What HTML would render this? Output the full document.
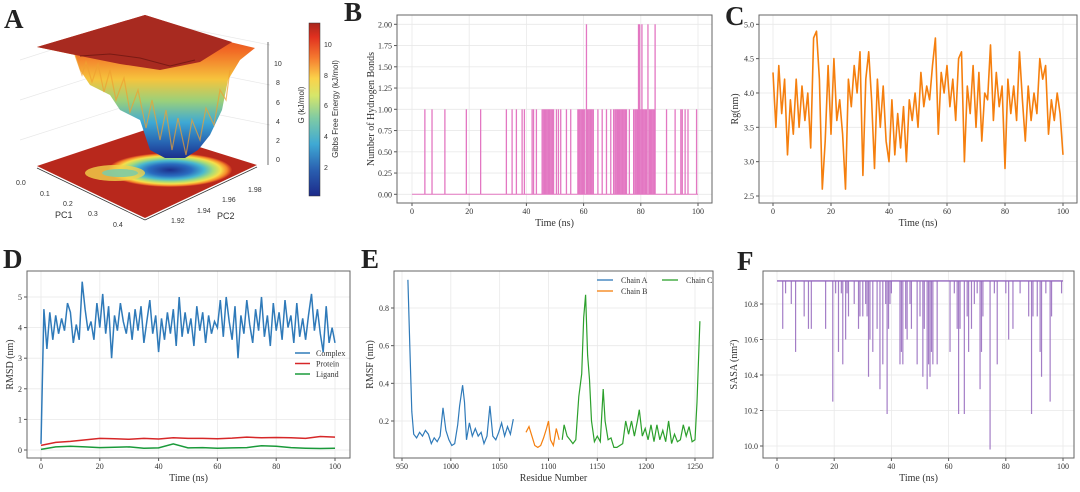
<!DOCTYPE html>
<html><head><meta charset="utf-8"><title>MD analysis panels</title>
<style>
html,body{margin:0;padding:0;background:#fff;}
svg{display:block;font-family:"Liberation Serif",serif;}
.lt{font-family:"Liberation Sans",sans-serif;}
</style></head>
<body>
<svg id="fig" width="1080" height="492" viewBox="0 0 1080 492" xmlns="http://www.w3.org/2000/svg">
<defs>
<linearGradient id="jet" x1="0" y1="1" x2="0" y2="0">
<stop offset="0" stop-color="#1c2a8a"/><stop offset="0.15" stop-color="#2a5fb0"/><stop offset="0.3" stop-color="#3fa9d4"/><stop offset="0.45" stop-color="#7fcba4"/><stop offset="0.58" stop-color="#d6e66a"/><stop offset="0.68" stop-color="#fbd24a"/><stop offset="0.8" stop-color="#f5792f"/><stop offset="0.92" stop-color="#e0301f"/><stop offset="1" stop-color="#a8261c"/>
</linearGradient>
<linearGradient id="funnel" x1="0" y1="0" x2="0" y2="1">
<stop offset="0" stop-color="#c72a1c"/><stop offset="0.25" stop-color="#f26a25"/><stop offset="0.45" stop-color="#f6c43d"/><stop offset="0.6" stop-color="#9bd07a"/><stop offset="0.75" stop-color="#3fa9d4"/><stop offset="0.9" stop-color="#2660b0"/><stop offset="1" stop-color="#1c2f8c"/>
</linearGradient>
<radialGradient id="well" cx="0.5" cy="0.5" r="0.5">
<stop offset="0" stop-color="#1c2f8c"/><stop offset="0.35" stop-color="#2a6cc0"/><stop offset="0.55" stop-color="#48b8d0"/><stop offset="0.7" stop-color="#a8dc78"/><stop offset="0.82" stop-color="#f6e04a"/><stop offset="0.92" stop-color="#f58a2a"/><stop offset="1" stop-color="#c32a1e"/>
</radialGradient>
</defs>

<!-- Panel A -->
<g>
<text x="4" y="28" font-size="27" font-weight="bold" fill="#222">A</text>
<g stroke="#e8e8e8" stroke-width="0.7">
<line x1="20" y1="60" x2="145" y2="20"/><line x1="20" y1="100" x2="145" y2="60"/><line x1="20" y1="140" x2="145" y2="100"/>
<line x1="145" y1="20" x2="270" y2="45"/><line x1="145" y1="60" x2="270" y2="85"/><line x1="145" y1="100" x2="270" y2="125"/>
</g>
<polygon points="37,166 145,130 257,165 145,218" fill="#b8281c"/>
<ellipse cx="170" cy="170" rx="62" ry="17" fill="url(#well)"/>
<ellipse cx="115" cy="173" rx="30" ry="8" fill="#f2d24a" opacity="0.8"/>
<ellipse cx="120" cy="173" rx="18" ry="4" fill="#7fcba4" opacity="0.9"/>
<polygon points="37,47 145,15 230,42 255,48 240,60 228,80 222,110 210,135 198,150 185,158 165,158 150,150 140,120 120,110 110,95 90,85 80,70 75,55" fill="url(#funnel)"/>
<polyline points="75,55 82,75 86,62 92,82 98,64 104,92 110,70 116,100 124,78 130,112 138,90 146,128 152,100 160,140 166,110 172,150 178,118 186,155 192,120 200,140 206,108 214,125 220,90 226,100 230,70" fill="none" stroke="#f0a030" stroke-width="1.2" opacity="0.7"/>
<polygon points="37,47 145,15 232,42 200,62 160,70 120,64 90,58" fill="#a82a20"/>
<polyline points="80,56 110,54 140,58 170,66 195,60" fill="none" stroke="#7a1a14" stroke-width="1"/>
<line x1="268" y1="42" x2="268" y2="165" stroke="#333" stroke-width="0.7"/>
<g font-size="7" fill="#333" class="lt">
<text x="274" y="66">10</text><text x="276" y="85">8</text><text x="276" y="105">6</text><text x="276" y="124">4</text><text x="276" y="143">2</text><text x="276" y="162">0</text>
</g>
<text transform="translate(304,105) rotate(-90)" font-size="8" class="lt" fill="#333" text-anchor="middle">G (kJ/mol)</text>
<line x1="37" y1="168" x2="145" y2="220" stroke="#333" stroke-width="0.7"/>
<line x1="145" y1="220" x2="257" y2="167" stroke="#333" stroke-width="0.7"/>
<g font-size="7" fill="#333" class="lt">
<text x="16" y="185">0.0</text><text x="40" y="196">0.1</text><text x="63" y="206">0.2</text><text x="88" y="216">0.3</text><text x="113" y="227">0.4</text>
</g>
<text x="55" y="218" font-size="9" class="lt" fill="#333">PC1</text>
<g font-size="7" fill="#333" class="lt">
<text x="171" y="223">1.92</text><text x="197" y="213">1.94</text><text x="222" y="202">1.96</text><text x="248" y="192">1.98</text>
</g>
<text x="217" y="219" font-size="9" class="lt" fill="#333">PC2</text>
<rect x="309" y="23" width="11" height="173" fill="url(#jet)" stroke="#333" stroke-width="0.5"/>
<g font-size="7" fill="#333" class="lt">
<text x="324" y="47">10</text><text x="324" y="78">8</text><text x="324" y="108">6</text><text x="324" y="139">4</text><text x="324" y="170">2</text>
</g>
<text transform="translate(338,109) rotate(-90)" font-size="8" class="lt" fill="#333" text-anchor="middle">Gibbs Free Energy (kJ/mol)</text>
</g>
<g id="charts"></g>
</svg>

<script>
// ---- Data ----
// B: hydrogen bonds events (time ns, count)
const hbTimes = [4.5,7,11.5,19,24,33,35,36.5,38.5,39.3,
42,42.5,43.5,45.5,45.9,46.3,46.7,47.1,47.5,47.9,
48.3,48.7,49.1,49.5,50.5,51.2,52,54,55.5,58,
58.4,58.8,59.2,59.6,60,60.4,61,61.4,61.8,62.2,
62.6,63,63.4,65,66.5,68,69.5,70.5,71,71.4,
71.8,72.2,72.6,73,73.4,73.8,74.2,74.6,75,76,
77.5,78,78.4,78.8,79.2,79.6,80,80.4,80.8,81.2,
81.6,82,82.5,83,83.4,83.8,84.2,84.6,85,89,
92,94,94.5,95.5,96.5,99.5];
const hbCounts = [1,1,1,1,1,1,1,1,1,1,
1,1,1,1,1,1,1,1,1,1,
1,1,1,1,1,1,1,1,1,1,
1,1,1,1,1,1,2,1,1,1,
1,1,1,1,1,1,1,1,1,1,
1,1,1,1,1,1,1,1,1,1,
1,1,1,1,2,2,1,2,1,1,
1,1,2,1,1,1,1,1,2,1,
1,1,1,1,1,1];
const hbYTicks = ["0.00","0.25","0.50","0.75","1.00","1.25","1.50","1.75","2.00"];
// C: Rg per ns (0..100)
const rgValues = [4.3,3.5,4.4,3.7,4.2,3.1,3.9,3.4,4.2,3.5,4.1,3.6,4.0,3.2,4.8,4.9,4.2,2.6,3.3,4.4,3.4,4.5,3.6,3.9,3.4,2.6,4.2,3.8,4.4,4.0,4.6,2.8,4.2,4.6,3.9,2.9,4.2,3.5,4.1,3.3,3.0,3.9,3.1,3.7,3.2,3.8,3.0,3.9,3.6,4.0,3.5,4.3,3.8,4.1,3.9,4.4,4.8,3.4,4.3,4.0,4.4,3.8,4.2,3.6,4.5,4.6,3.0,4.1,3.7,4.4,3.5,4.3,3.3,4.0,3.9,4.7,3.6,4.3,3.8,4.1,2.9,4.2,3.7,4.1,3.6,4.6,3.9,3.3,4.1,3.6,4.0,3.7,4.5,4.2,4.4,3.4,3.9,3.6,4.0,3.7,3.1];
const rgYTicks = ["2.5","3.0","3.5","4.0","4.5","5.0"];
const timeTicks = ["0","20","40","60","80","100"];
// D: RMSD
const complexRmsd = [0.2,4.6,3.3,4.5,3.6,4.4,3.8,4.3,3.9,4.8,4.5,3.5,4.1,3.6,5.5,4.6,3.9,4.2,3.6,4.8,4.0,5.1,3.8,4.7,3.0,4.4,3.9,4.8,4.2,3.8,4.5,3.6,4.6,3.9,4.7,3.5,4.2,4.9,3.8,4.4,3.2,4.3,3.6,4.5,3.8,4.6,3.4,5.0,3.7,4.5,3.8,4.3,3.4,4.7,3.9,4.5,3.5,4.4,3.8,4.2,4.0,4.9,3.7,5.0,4.2,3.6,4.7,3.0,4.4,3.8,4.9,4.1,3.5,4.6,3.9,5.0,3.7,4.4,3.4,4.8,3.9,4.5,3.6,4.9,4.0,4.4,3.5,4.8,3.7,4.3,3.6,4.4,5.1,3.9,4.6,3.8,3.2,4.7,3.5,4.0,3.5];
const proteinRmsd = [0.15,0.25,0.28,0.33,0.38,0.37,0.35,0.38,0.36,0.40,0.38,0.38,0.37,0.39,0.42,0.40,0.41,0.40,0.38,0.44,0.42];
const ligandRmsd = [0.02,0.10,0.12,0.10,0.08,0.09,0.10,0.06,0.07,0.20,0.07,0.08,0.06,0.07,0.08,0.14,0.12,0.08,0.06,0.05,0.06];
const rmsdYTicks = ["0","1","2","3","4","5"];
// E: RMSF
const resA = [956,958,960,962,965,968,971,974,977,980,983,986,989,992,995,998,1001,1004,1007,1009,1012,1014,1016,1019,1022,1025,1028,1031,1034,1037,1040,1043,1046,1049,1052,1055,1058,1061,1064];
const rmsfA = [0.95,0.6,0.25,0.13,0.11,0.14,0.12,0.15,0.13,0.08,0.11,0.09,0.12,0.27,0.15,0.1,0.07,0.08,0.18,0.28,0.39,0.3,0.1,0.19,0.12,0.16,0.12,0.14,0.08,0.12,0.28,0.12,0.10,0.14,0.19,0.12,0.17,0.13,0.21];
const resB = [1077,1080,1083,1086,1089,1092,1095,1098,1100,1102,1105,1108,1111];
const rmsfB = [0.14,0.17,0.12,0.07,0.06,0.07,0.11,0.16,0.2,0.1,0.07,0.16,0.1];
const resC = [1114,1116,1119,1122,1125,1128,1131,1134,1136,1138,1140,1142,1144,1147,1150,1153,1156,1158,1161,1164,1167,1170,1173,1176,1179,1182,1185,1188,1191,1193,1196,1199,1202,1205,1208,1211,1214,1217,1220,1223,1226,1229,1232,1235,1238,1241,1244,1247,1250,1252,1255];
const rmsfC = [0.1,0.18,0.12,0.1,0.08,0.1,0.33,0.45,0.75,0.87,0.55,0.42,0.2,0.09,0.12,0.09,0.37,0.2,0.1,0.11,0.06,0.06,0.07,0.08,0.2,0.13,0.2,0.12,0.2,0.26,0.12,0.16,0.1,0.18,0.09,0.18,0.1,0.15,0.09,0.2,0.08,0.13,0.09,0.1,0.18,0.12,0.17,0.09,0.1,0.3,0.73];
const rmsfXTicks = ["950","1000","1050","1100","1150","1200","1250"];
const rmsfYTicks = ["0.2","0.4","0.6","0.8"];
// F: SASA dips
const sasaBase = 10.93;
const sasaTimes = [2,3,5,6.5,9.5,11,12,17,19.5,20.5,21.5,22.5,23,24,24.5,25,27,28.5,29,30,31,31.5,32,32.5,33.5,35,36,37,38,38.5,39,39.5,40,43,43.5,44,45,45.5,46.5,47,49,50,51,51.5,52.5,53,53.5,54,54.5,56,60.5,62,63,63.5,64,65.5,66.5,67,68,69,70,71,71.5,72,74.5,76,77,80,81,82.5,85,88,89,89.5,91,92,92.5,94,95.5,96,99.5];
const sasaValues = [10.66,10.86,10.80,10.53,10.73,10.66,10.66,10.66,10.25,10.86,10.53,10.86,10.46,10.6,10.86,10.73,10.8,10.66,10.73,10.73,10.8,10.73,10.39,10.6,10.53,10.66,10.32,10.46,10.8,10.18,10.66,10.8,10.86,10.46,10.53,10.46,10.66,10.6,10.8,10.66,10.46,10.73,10.39,10.66,10.32,10.46,10.39,10.53,10.46,10.46,10.53,10.86,10.66,10.18,10.66,10.18,10.73,10.53,10.66,10.8,10.86,10.32,10.53,10.73,9.98,10.86,10.46,10.86,10.6,10.66,10.86,10.73,10.18,10.73,10.73,10.53,10.39,10.86,10.25,10.73,10.86];
const sasaYTicks = ["10.0","10.2","10.4","10.6","10.8"];

// ---- helpers ----
const NS='http://www.w3.org/2000/svg';
const root=document.getElementById('charts');
function el(tag,attrs,parent){const e=document.createElementNS(NS,tag);for(const k in attrs)e.setAttribute(k,attrs[k]);(parent||root).appendChild(e);return e;}
function lin(d0,d1,r0,r1){return v=>r0+(v-d0)*(r1-r0)/(d1-d0);}
function panel(id,box,sx,sy,xt,yt,xlab,ylab,ylabX,letter,lx,ly){
  const g=el('g',{});
  
  
  const t=el('text',{x:lx,y:ly,'font-size':27,'font-weight':'bold',fill:'#222'},g);t.textContent=letter;
  
  
  const grid=el('g',{stroke:'#e9e9e9','stroke-width':0.8},g);
  
  
  const xg=el('g',{'font-size':8,fill:'#333','text-anchor':'middle'},g);
  
  
  xt.forEach(s=>{const x=sx(parseFloat(s));el('line',{x1:x,x2:x,y1:box[1],y2:box[3]},grid);el('line',{x1:x,x2:x,y1:box[3],y2:box[3]+3,stroke:'#555'},xg);const tx=el('text',{x:x,y:box[3]+11},xg);tx.textContent=s;});
  const yg=el('g',{'font-size':8,fill:'#333','text-anchor':'end'},g);
  
  
  yt.forEach(s=>{const y=sy(parseFloat(s));el('line',{y1:y,y2:y,x1:box[0],x2:box[2]},grid);el('line',{y1:y,y2:y,x1:box[0]-3,x2:box[0],stroke:'#555'},yg);const ty=el('text',{x:box[0]-5,y:y+3},yg);ty.textContent=s;});
  const fr=el('rect',{x:box[0],y:box[1],width:box[2]-box[0],height:box[3]-box[1],fill:'none',stroke:'#666','stroke-width':1},g);
  
  
  const xl=el('text',{x:(box[0]+box[2])/2,y:box[3]+23,'font-size':10,fill:'#333','text-anchor':'middle'},g);xl.textContent=xlab;
  
  
  const yl=el('text',{transform:`translate(${ylabX},${(box[1]+box[3])/2}) rotate(-90)`,'font-size':10,fill:'#333','text-anchor':'middle'},g);yl.innerHTML=ylab;
  
  
  return g;
}
function pathFrom(xs,ys,sx,sy){return xs.map((x,i)=>(i?'L':'M')+sx(x).toFixed(1)+','+sy(ys[i]).toFixed(1)).join('');}

// ---- B ----
{const box=[397,15,712,203];const sx=lin(0,100,412,698),sy=lin(0,2,194.3,24.3);
const g=panel('b',box,sx,sy,timeTicks,hbYTicks,'Time (ns)','Number of Hydrogen Bonds',374,'B',344,21);
const base=el('line',{x1:sx(0),x2:sx(100),y1:sy(0),y2:sy(0),stroke:'#e377c2','stroke-width':1},g);


hbTimes.forEach((t,i)=>{const c=hbCounts[i]||0;
const l=el('line',{x1:sx(t),x2:sx(t),y1:sy(0),y2:sy(c),stroke:'#e377c2','stroke-width':1.3},g);

});}

// ---- C ----
{const box=[759,15,1077,203];const sx=lin(0,100,773,1063),sy=lin(2.5,5,196,24.3);
const g=panel('c',box,sx,sy,timeTicks,rgYTicks,'Time (ns)','Rg(nm)',738,'C',725,25);
const p=el('path',{d:pathFrom(rgValues.map((v,i)=>i),rgValues,sx,sy),fill:'none',stroke:'#f57f0e','stroke-width':1.6,'stroke-linejoin':'round'},g);

}

// ---- D ----
{const box=[27,271,350,458];const sx=lin(0,100,41,335),sy=lin(0,5,450,297);
const g=panel('d',box,sx,sy,timeTicks,rmsdYTicks,'Time (ns)','RMSD (nm)',13,'D',3,268);
const pc=el('path',{d:pathFrom(complexRmsd.map((v,i)=>i),complexRmsd,sx,sy),fill:'none',stroke:'#2f7ab9','stroke-width':1.5},g);


const pp=el('path',{d:pathFrom(proteinRmsd.map((v,i)=>i*5),proteinRmsd,sx,sy),fill:'none',stroke:'#d62728','stroke-width':1.5},g);


const pl=el('path',{d:pathFrom(ligandRmsd.map((v,i)=>i*5),ligandRmsd,sx,sy),fill:'none',stroke:'#1a9a3a','stroke-width':1.5},g);


[['Complex','#2f7ab9'],['Protein','#d62728'],['Ligand','#1a9a3a']].forEach((s,i)=>{const y=353+i*10.5;
const lg=el('g',{},g);


el('line',{x1:295,x2:310,y1:y,y2:y,stroke:s[1],'stroke-width':1.5},lg);
const t=el('text',{x:316,y:y+3,'font-size':8,fill:'#333'},lg);t.textContent=s[0];});}

// ---- E ----
{const box=[394,271,713,458];const sx=lin(950,1250,402,695),sy=lin(0.2,0.8,421,308);
const g=panel('e',box,sx,sy,rmsfXTicks,rmsfYTicks,'Residue Number','RMSF (nm)',373,'E',361,268);
[[resA,rmsfA,'#2f7ab9','chain-a-rmsf-line'],[resB,rmsfB,'#f57f0e','chain-b-rmsf-line'],[resC,rmsfC,'#2ca02c','chain-c-rmsf-line']].forEach(s=>{
const p=el('path',{d:pathFrom(s[0],s[1],sx,sy),fill:'none',stroke:s[2],'stroke-width':1.2},g);

});
[['Chain A','#2f7ab9',597,280],['Chain B','#f57f0e',597,291],['Chain C','#2ca02c',662,280]].forEach(s=>{
const lg=el('g',{},g);


el('line',{x1:s[2],x2:s[2]+16,y1:s[3],y2:s[3],stroke:s[1],'stroke-width':1.3},lg);
const t=el('text',{x:s[2]+24,y:s[3]+3,'font-size':8,fill:'#333'},lg);t.textContent=s[0];});}

// ---- F ----
{const box=[763,271,1074,458];const sx=lin(0,100,777,1063),sy=lin(10.0,10.8,446,304);
const g=panel('f',box,sx,sy,timeTicks,sasaYTicks,'Time (ns)','SASA (nm<tspan dy="-3" font-size="6">2</tspan><tspan dy="3">)</tspan>',737,'F',737,270);
const b=el('line',{x1:sx(0),x2:sx(100),y1:sy(sasaBase),y2:sy(sasaBase),stroke:'#9467bd','stroke-width':1.3},g);


sasaTimes.forEach((t,i)=>{const l=el('line',{x1:sx(t),x2:sx(t),y1:sy(sasaBase),y2:sy(sasaValues[i]),stroke:'#9467bd','stroke-width':1.2,opacity:0.85},g);

});}
</script>
</body></html>
